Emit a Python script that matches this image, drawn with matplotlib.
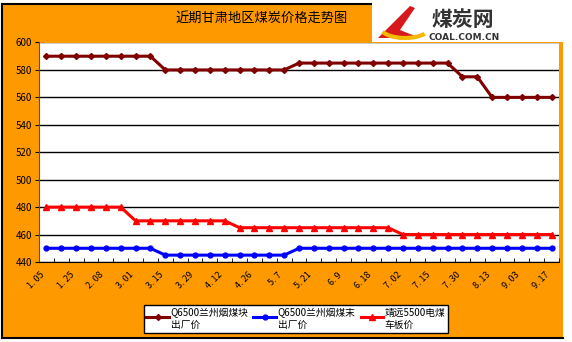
import matplotlib
matplotlib.use("Agg")
import matplotlib.pyplot as plt
from matplotlib.patches import Rectangle, Polygon, Arc
from matplotlib.lines import Line2D
from matplotlib.legend_handler import HandlerLine2D
import numpy as np

plt.rcParams['font.family'] = ['Noto Sans CJK SC', 'DejaVu Sans']

# Data
dates = ["1. 05", "", "1. 25", "", "2. 08", "", "3. 01", "", "3. 15", "", "3. 29", "",
         "4. 12", "", "4. 26", "", "5. 7", "", "5. 21", "", "6. 9", "", "6. 18", "",
         "7. 02", "", "7. 15", "", "7. 30", "", "8. 13", "", "9. 03", "", "9. 17"]
lump_price = [590] * 8 + [580] * 9 + [585] * 11 + [575] * 2 + [560] * 5
fines_price = [450] * 8 + [445] * 9 + [450] * 18
jingyuan_price = [480] * 6 + [470] * 7 + [465] * 11 + [460] * 11
series_names = ["Q6500兰州烟煤块\n出厂价", "Q6500兰州烟煤末\n出厂价", "靖远5500电煤\n车板价"]

orange = "#FF9900"
W, H = 572, 342


# legend handle sits next to the first line of a two-line label
class UpperHandler(HandlerLine2D):
    def create_artists(self, legend, orig_handle, xdescent, ydescent, width, height, fontsize, trans):
        return super().create_artists(legend, orig_handle, xdescent, ydescent - 0.6 * fontsize,
                                      width, height, fontsize, trans)


fig = plt.figure(figsize=(W / 100, H / 100), dpi=100)
fig.patch.set_facecolor("white")

# orange background panel with black border
fig.patches.append(Rectangle((2 / W, 4 / H), 561 / W, 334 / H, transform=fig.transFigure,
                             facecolor=orange, edgecolor="none", zorder=0))
for xs, ys in [((2, 563), (338, 338)), ((2, 2), (4, 338)), ((2, 563), (4, 4))]:
    fig.lines.append(Line2D([x / W for x in xs], [1 - y / H for y in ys],
                            transform=fig.transFigure, color="black", lw=1.5, zorder=1))

# logo area (white box at top right)
fig.patches.append(Rectangle((372 / W, 1 - 42 / H), 200 / W, 42 / H, transform=fig.transFigure,
                             facecolor="white", edgecolor="none", zorder=1))
fig.patches.append(Polygon([(378 / W, 1 - 38 / H), (410 / W, 1 - 6 / H), (415 / W, 1 - 8 / H),
                            (400 / W, 1 - 30 / H), (420 / W, 1 - 38 / H)],
                           transform=fig.transFigure, facecolor="#D7191C", edgecolor="none", zorder=2))
fig.patches.append(Arc((405 / W, 1 - 27 / H), 50 / W, 22 / H, theta1=200, theta2=330,
                       transform=fig.transFigure, color="#F6B800", lw=3, zorder=2))
fig.text(463 / W, 1 - 20 / H, "煤炭网", fontsize=15, fontweight="bold", color="#333333",
         ha="center", va="center", zorder=3)
fig.text(464 / W, 1 - 38 / H, "COAL.COM.CN", fontsize=6.5, fontweight="bold", color="#333333",
         ha="center", va="center", family="DejaVu Sans", zorder=3)

fig.text(262 / W, 1 - 18 / H, "近期甘肃地区煤炭价格走势图", fontsize=9.5, ha="center", va="center")

ax = fig.add_axes([39 / W, 1 - 262 / H, 520 / W, 219.5 / H])
ax.set_zorder(3)
ax.set_facecolor("white")
x = np.arange(len(dates))

ax.plot(x, lump_price, color="#800000", lw=2.2, marker="D", ms=3, label=series_names[0])
ax.plot(x, fines_price, color="#0000FF", lw=2.2, marker="o", ms=3.5, label=series_names[1])
ax.plot(x, jingyuan_price, color="#FF0000", lw=2.2, marker="^", ms=4, label=series_names[2])

ax.set_xlim(-0.5, len(dates) - 0.5)
ax.set_ylim(440, 600)
ax.set_yticks(np.arange(440, 601, 20))
ax.grid(axis="y", color="black", lw=1)
ax.set_axisbelow(True)
ax.tick_params(axis="y", labelsize=7, length=3, pad=2)

ax.set_xticks(x)
ax.set_xticklabels(dates, rotation=45, ha="right", va="top", fontsize=6.5)
ax.tick_params(axis="x", length=0, pad=6)
ax.set_xticks(np.arange(-0.5, len(dates), 1), minor=True)
ax.tick_params(axis="x", which="minor", direction="in", length=3)

for s in ["top", "right"]:
    ax.spines[s].set_visible(False)
ax.spines["left"].set_color("#555555")
ax.spines["bottom"].set_color("black")

handles, labels = ax.get_legend_handles_labels()
leg = fig.legend(handles, labels, loc="center", bbox_to_anchor=(296 / W, 1 - 319 / H), ncol=3,
                 fontsize=7, frameon=True, fancybox=False, edgecolor="black", framealpha=1,
                 handlelength=2.3, columnspacing=0.5, handletextpad=0.2, borderpad=0.3,
                 handler_map={h: UpperHandler() for h in handles})
leg.get_frame().set_linewidth(1)
leg.set_zorder(4)

fig.savefig("out.png", dpi=100, facecolor=fig.get_facecolor())
